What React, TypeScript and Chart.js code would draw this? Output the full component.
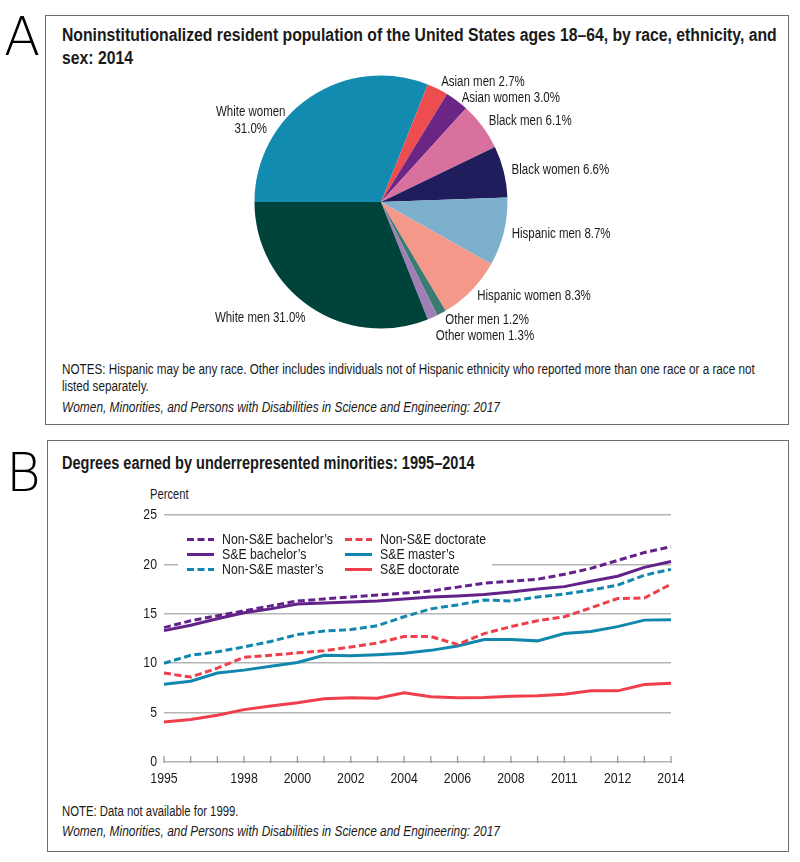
import React, { useEffect, useRef } from "react";
import { Chart, registerables } from "chart.js";

Chart.register(...registerables);

const FONT = '"Liberation Sans", Arial, sans-serif';
const SX = 0.82; // horizontal condensing to mimic a narrow face

// ---------- Panel A data ----------
const pieCategories = [
  "White women",
  "Asian men",
  "Asian women",
  "Black men",
  "Black women",
  "Hispanic men",
  "Hispanic women",
  "Other men",
  "Other women",
  "White men",
];
const pieValues = [31.0, 2.7, 3.0, 6.1, 6.6, 8.7, 8.3, 1.2, 1.3, 31.0];
const pieColors = [
  "#138ab0",
  "#ee4d4f",
  "#6a2585",
  "#d9719f",
  "#201d5c",
  "#7db0cc",
  "#f4998a",
  "#3b7b73",
  "#a07fb7",
  "#00433b",
];

// ---------- Panel B data ----------
const xTickLabels = [
  "1995", "", "", "1998", "", "2000", "", "2002", "", "2004",
  "", "2006", "", "2008", "", "2011", "", "2012", "", "2014",
];
const yTicks = [0, 5, 10, 15, 20, 25];
const seriesNames = [
  "Non-S&E bachelor\u2019s",
  "S&E bachelor\u2019s",
  "Non-S&E master\u2019s",
  "Non-S&E doctorate",
  "S&E master\u2019s",
  "S&E doctorate",
];
const nonSEBachelors = [13.6, 14.3, 14.8, 15.3, 15.8, 16.3, 16.5, 16.7, 16.9, 17.1, 17.3, 17.7, 18.1, 18.3, 18.5, 19.0, 19.6, 20.4, 21.2, 21.8];
const seBachelors = [13.3, 13.85, 14.5, 15.1, 15.5, 16.0, 16.1, 16.2, 16.3, 16.5, 16.7, 16.8, 16.95, 17.2, 17.5, 17.75, 18.3, 18.8, 19.7, 20.3];
const nonSEMasters = [10.0, 10.8, 11.15, 11.65, 12.2, 12.9, 13.25, 13.4, 13.8, 14.7, 15.5, 15.9, 16.4, 16.3, 16.7, 17.0, 17.4, 17.9, 18.9, 19.5];
const nonSEDoctorate = [9.0, 8.6, 9.5, 10.6, 10.8, 11.05, 11.25, 11.65, 12.05, 12.7, 12.7, 11.9, 13.0, 13.7, 14.3, 14.7, 15.6, 16.55, 16.6, 18.0];
const seMasters = [7.87, 8.18, 9.0, 9.3, 9.7, 10.07, 10.8, 10.75, 10.85, 11.0, 11.3, 11.75, 12.4, 12.4, 12.26, 13.0, 13.2, 13.7, 14.36, 14.4];
const seDoctorate = [4.05, 4.3, 4.73, 5.3, 5.67, 6.0, 6.4, 6.5, 6.45, 7.0, 6.6, 6.5, 6.52, 6.65, 6.7, 6.85, 7.2, 7.2, 7.84, 7.97];

const PURPLE = "#62228a";
const BLUE = "#1187ae";
const RED = "#ef3f4c";
const DASH = [7, 3.5];
const TEXT = "#1a1a1a";

// label layout tweaks (not data)
const labelNudges: Record<string, { dx: number; dy: number; split?: boolean }> = {
  "White women": { dx: -20, dy: 30, split: true },
  "White men": { dx: 0, dy: 5 },
};

function fillNarrow(ctx: CanvasRenderingContext2D, text: string, x: number, y: number, align: CanvasTextAlign) {
  ctx.save();
  ctx.translate(x, y);
  ctx.scale(SX, 1);
  ctx.textAlign = align;
  ctx.fillText(text, 0, 0);
  ctx.restore();
}
function measureNarrow(ctx: CanvasRenderingContext2D, text: string) {
  return ctx.measureText(text).width * SX;
}

const pieLabelPlugin = {
  id: "pieLabels",
  afterDatasetsDraw(chart: any) {
    const ctx = chart.ctx as CanvasRenderingContext2D;
    const meta = chart.getDatasetMeta(0);
    ctx.save();
    ctx.font = `14px ${FONT}`;
    ctx.fillStyle = TEXT;
    ctx.textBaseline = "middle";
    let lastRightY = -Infinity;
    const lh = 16;
    meta.data.forEach((arc: any, i: number) => {
      const p = arc.getProps(["x", "y", "startAngle", "endAngle", "outerRadius"], true);
      const mid = (p.startAngle + p.endAngle) / 2;
      const pad = 8;
      let lx = p.x + Math.cos(mid) * (p.outerRadius + pad);
      let ly = p.y + Math.sin(mid) * (p.outerRadius + pad);
      const right = Math.cos(mid) >= 0;
      const name = pieCategories[i];
      const val = pieValues[i].toFixed(1) + "%";
      const n = labelNudges[name];
      if (n) {
        lx += n.dx;
        ly += n.dy;
      }
      if (n && n.split) {
        const w = Math.max(measureNarrow(ctx, name), measureNarrow(ctx, val));
        const cx = right ? lx + w / 2 : lx - w / 2;
        fillNarrow(ctx, name, cx, ly - 8.5, "center");
        fillNarrow(ctx, val, cx, ly + 8.5, "center");
        return;
      }
      if (right) {
        if (ly < lastRightY + lh) ly = lastRightY + lh;
        lastRightY = ly;
      }
      fillNarrow(ctx, `${name} ${val}`, lx, ly, right ? "left" : "right");
    });
    ctx.restore();
  },
};

const lineDecorPlugin = {
  id: "lineDecor",
  beforeDatasetsDraw(chart: any) {
    const ctx = chart.ctx as CanvasRenderingContext2D;
    const ca = chart.chartArea;
    const xs = chart.scales.x;
    const ys = chart.scales.y;
    ctx.save();
    // inward tick marks on the baseline
    ctx.strokeStyle = "#9a9a9a";
    ctx.lineWidth = 1.3;
    for (let i = 0; i < xs.ticks.length; i++) {
      const px = xs.getPixelForTick(i);
      ctx.beginPath();
      ctx.moveTo(px, ca.bottom - 6);
      ctx.lineTo(px, ca.bottom + 1);
      ctx.stroke();
    }
    // axis labels
    ctx.font = `15px ${FONT}`;
    ctx.fillStyle = TEXT;
    ctx.textBaseline = "middle";
    for (let i = 0; i < xs.ticks.length; i++) {
      const lbl = xTickLabels[i];
      if (lbl) fillNarrow(ctx, lbl, xs.getPixelForTick(i), ca.bottom + 17, "center");
    }
    yTicks.forEach((v) => {
      fillNarrow(ctx, String(v), ca.left - 7, ys.getPixelForValue(v), "right");
    });
    // legend background masks gridline
    ctx.fillStyle = "#ffffff";
    ctx.fillRect(ca.left + 14, ca.top + 14, 314, 50);
    chart.data.datasets.forEach((ds: any, i: number) => {
      const col = Math.floor(i / 3);
      const row = i % 3;
      const sx = ca.left + 23 + col * 158;
      const sy = ca.top + 24.5 + row * 15;
      ctx.setLineDash(ds.borderDash || []);
      ctx.strokeStyle = ds.borderColor;
      ctx.lineWidth = 3;
      ctx.beginPath();
      ctx.moveTo(sx, sy);
      ctx.lineTo(sx + 27, sy);
      ctx.stroke();
      ctx.setLineDash([]);
      ctx.fillStyle = TEXT;
      fillNarrow(ctx, ds.label, sx + 35, sy + 0.5, "left");
    });
    ctx.restore();
  },
};

function PieChart() {
  const ref = useRef<HTMLCanvasElement>(null);
  useEffect(() => {
    if (!ref.current) return;
    const chart = new Chart(ref.current, {
      type: "pie",
      data: {
        labels: pieCategories,
        datasets: [
          {
            data: pieValues,
            backgroundColor: pieColors,
            borderWidth: 0,
          },
        ],
      },
      options: {
        responsive: false,
        animation: false,
        rotation: 270,
        layout: { padding: { top: 23.5, bottom: 23.5 } },
        plugins: { legend: { display: false }, tooltip: { enabled: false } },
      },
      plugins: [pieLabelPlugin],
    });
    return () => chart.destroy();
  }, []);
  return (
    <canvas
      ref={ref}
      width={500}
      height={300}
      style={{ position: "absolute", left: 131, top: 51.5, width: 500, height: 300 }}
    />
  );
}

function LineChart() {
  const ref = useRef<HTMLCanvasElement>(null);
  useEffect(() => {
    if (!ref.current) return;
    const seriesData = [nonSEBachelors, seBachelors, nonSEMasters, nonSEDoctorate, seMasters, seDoctorate];
    const colors = [PURPLE, PURPLE, BLUE, RED, BLUE, RED];
    const dashed = [true, false, true, true, false, false];
    const chart = new Chart(ref.current, {
      type: "line",
      data: {
        labels: xTickLabels,
        datasets: seriesData.map((d, i) => ({
          label: seriesNames[i],
          data: d,
          borderColor: colors[i],
          backgroundColor: colors[i],
          borderWidth: 3,
          borderDash: dashed[i] ? DASH : [],
          pointRadius: 0,
          tension: 0,
          fill: false,
        })),
      },
      options: {
        responsive: false,
        animation: false,
        layout: { padding: { top: 35, right: 19, left: 0, bottom: 0 } },
        plugins: { legend: { display: false }, tooltip: { enabled: false } },
        scales: {
          x: {
            grid: { display: false },
            border: { display: false },
            ticks: { display: false, autoSkip: false, maxRotation: 0 },
            afterFit: (s: any) => {
              s.height = 38;
            },
          },
          y: {
            min: 0,
            max: 25,
            afterBuildTicks: (s: any) => {
              s.ticks = yTicks.map((v) => ({ value: v }));
            },
            grid: { color: "#b5b5b5", lineWidth: 1.5, drawTicks: false },
            border: { display: false },
            ticks: { display: false },
            afterFit: (s: any) => {
              s.width = 54;
            },
          },
        },
      },
      plugins: [lineDecorPlugin],
    });
    return () => chart.destroy();
  }, []);
  return (
    <canvas
      ref={ref}
      width={580}
      height={320}
      style={{ position: "absolute", left: 110, top: 480, width: 580, height: 320 }}
    />
  );
}

function Txt(props: {
  left: number;
  top: number;
  size: number;
  lh: number;
  sx?: number;
  bold?: boolean;
  italic?: boolean;
  children: React.ReactNode;
}) {
  return (
    <div
      style={{
        position: "absolute",
        left: props.left,
        top: props.top,
        fontFamily: FONT,
        fontSize: props.size,
        lineHeight: `${props.lh}px`,
        fontWeight: props.bold ? 700 : 400,
        fontStyle: props.italic ? "italic" : "normal",
        color: TEXT,
        whiteSpace: "nowrap",
        transform: `scaleX(${props.sx ?? SX})`,
        transformOrigin: "left top",
      }}
    >
      {props.children}
    </div>
  );
}

export default function App() {
  const letter: React.CSSProperties = {
    position: "absolute",
    fontFamily: '"DejaVu Sans", "Liberation Sans", Arial, sans-serif',
    fontWeight: 200,
    fontSize: 53,
    lineHeight: "54px",
    color: "#000",
  };
  return (
    <div style={{ position: "absolute", left: 0, top: 0, width: 800, height: 862, background: "#fff", overflow: "hidden" }}>
      <div style={{ ...letter, left: 4, top: 10 }}>A</div>
      <div style={{ ...letter, left: 6, top: 446 }}>B</div>

      <div style={{ position: "absolute", left: 45, top: 15, width: 742, height: 408, border: "1.5px solid #6f6f6f" }} />
      <div style={{ position: "absolute", left: 47, top: 440, width: 740, height: 410, border: "1.5px solid #6f6f6f" }} />

      <Txt left={62} top={23.5} size={17.5} lh={23} sx={0.9} bold>
        Noninstitutionalized resident population of the United States ages 18–64, by race, ethnicity, and
        <br />
        sex: 2014
      </Txt>

      <PieChart />

      <Txt left={62} top={360.5} size={14} lh={17} sx={0.835}>
        NOTES: Hispanic may be any race. Other includes individuals not of Hispanic ethnicity who reported more than one race or a race not
        <br />
        listed separately.
      </Txt>
      <Txt left={62} top={398.5} size={14} lh={17} sx={0.85} italic>
        Women, Minorities, and Persons with Disabilities in Science and Engineering: 2017
      </Txt>

      <Txt left={62} top={451.5} size={17.5} lh={23} sx={0.83} bold>
        Degrees earned by underrepresented minorities: 1995–2014
      </Txt>
      <Txt left={150} top={485} size={14} lh={18} sx={0.8}>
        Percent
      </Txt>

      <LineChart />

      <Txt left={62} top={802.5} size={14} lh={17} sx={0.81}>
        NOTE: Data not available for 1999.
      </Txt>
      <Txt left={62} top={822.5} size={14} lh={17} sx={0.85} italic>
        Women, Minorities, and Persons with Disabilities in Science and Engineering: 2017
      </Txt>
    </div>
  );
}
